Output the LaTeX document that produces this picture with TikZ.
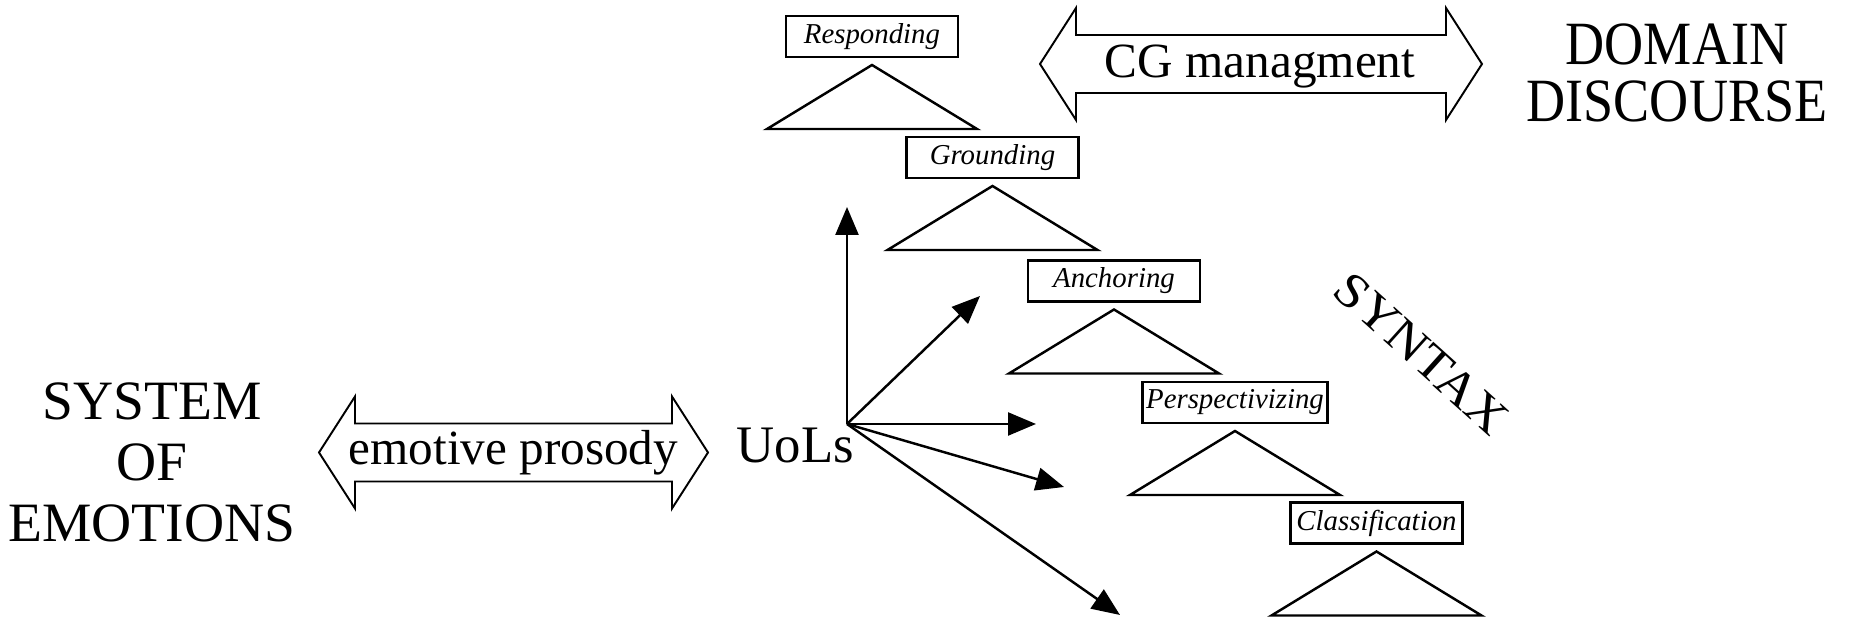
\documentclass[tikz,border=0pt]{standalone}
\usepackage{fontspec}
\setmainfont{Liberation Serif}
\usetikzlibrary{positioning,arrows.meta}
\tikzset{
      stage/.style={draw,line width=0.8pt,outer sep=0pt,inner sep=1pt,
        minimum width=1.72cm,minimum height=0.41cm,
        font=\fontsize{8.2pt}{9pt}\selectfont\itshape},
      wedge/.style={line width=0.7pt,line join=miter},
      flow/.style={line width=0.7pt,-{Triangle[length=0.28cm,width=0.23cm]}},
      big/.style={font=\fontsize{14pt}{16pt}\selectfont},
      pics/twoway/.style={code={ % hollow double arrow, #1 = half length
        \draw[line width=0.55pt,line join=miter]
          (-#1,0) -- (-#1+0.36,0.56) -- (-#1+0.36,0.29) -- (#1-0.36,0.29)
          -- (#1-0.36,0.56) -- (#1,0) -- (#1-0.36,-0.56) -- (#1-0.36,-0.29)
          -- (-#1+0.36,-0.29) -- (-#1+0.36,-0.56) -- cycle;
      }}
    }

\begin{document}
\begin{tikzpicture}
\useasboundingbox (0,0) rectangle (18.52,6.18);
% stages, each with its wedge below
\foreach \name/\x/\y/\txt in {
  resp/8.72/5.815/Responding,
  grnd/9.925/4.605/Grounding,
  anch/11.14/3.37/Anchoring,
  persp/12.35/2.155/Perspectivizing,
  class/13.765/0.95/Classification
}{
  \node[stage] (\name) at (\x,\y) {\txt};
  \draw[wedge] ([yshift=-0.08cm]\name.south) -- ++(1.05,-0.64) -- ++(-2.1,0) -- cycle;
}

\node[align=center,font=\fontsize{15.8pt}{17.4pt}\selectfont] (emotions) at (1.52,1.555) {SYSTEM\\OF\\EMOTIONS};
\node[big,anchor=base] (prosody) at (5.135,1.53) {emotive prosody};
\pic at (5.135,1.655) {twoway=1.945};
\node[anchor=base,font=\fontsize{15pt}{18pt}\selectfont] (uols) at (7.955,1.55) {UoLs};

\node[big,anchor=base] (cg) at (12.60,5.40) {CG managment};
\pic at (12.61,5.54) {twoway=2.21};
\node[align=center,xscale=0.88,font=\fontsize{17.5pt}{16.2pt}\selectfont] (domain) at (16.77,5.45) {DOMAIN\\DISCOURSE};

\node[rotate=-42,xscale=1.1,big] (syntax) at (14.215,2.645) {SYNTAX};

% arrows out of the UoLs
\coordinate (hub) at (8.47,1.94);
\foreach \tip/\x/\y in {up/8.47/4.11, ne/9.80/3.22, e/10.36/1.94, se/10.64/1.31, s/11.20/0.03}{
  \coordinate (\tip) at (\x,\y);
  \draw[flow] (hub) -- (\tip);
}
\end{tikzpicture}
\end{document}
